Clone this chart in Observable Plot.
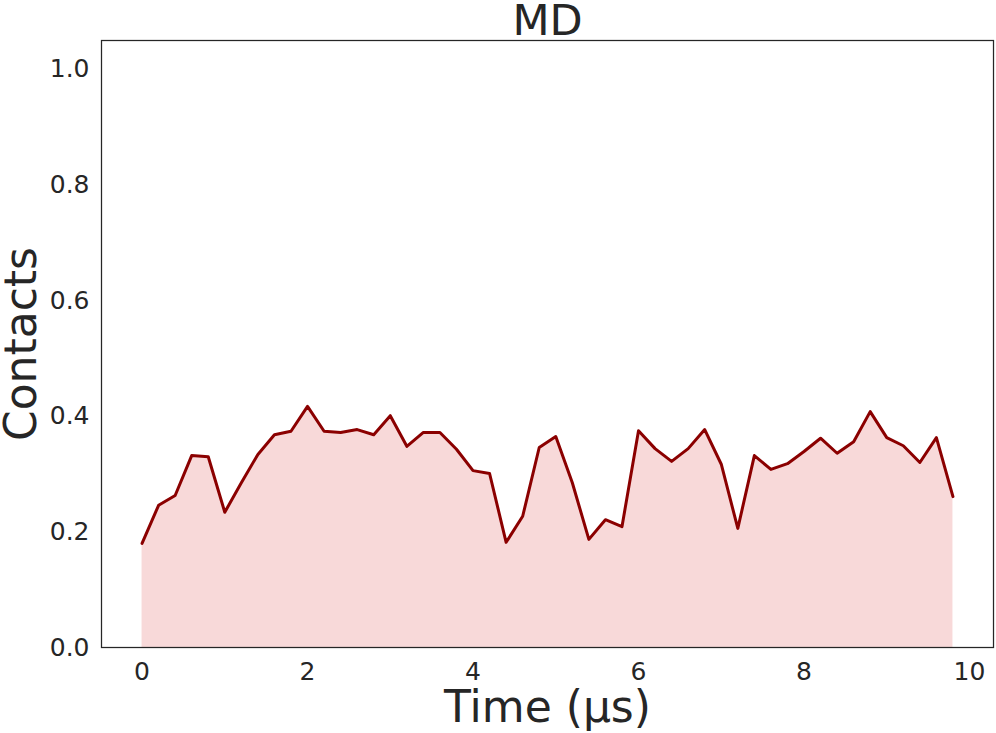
<!DOCTYPE html>
<html>
<head>
<meta charset="utf-8">
<script src="https://cdn.jsdelivr.net/npm/d3@7"></script>
<script src="https://cdn.jsdelivr.net/npm/@observablehq/plot@0.6"></script>
<style>
  html, body { margin: 0; padding: 0; background: #fff; }
  #chart svg { display: block; }
</style>
</head>
<body>
<div id="chart"></div>
<script>
const title = "MD";
const xLabel = "Time (µs)";
const yLabel = "Contacts";
const times = [0, 0.2, 0.4, 0.6, 0.8, 1.0, 1.2, 1.4, 1.6, 1.8,
               2.0, 2.2, 2.4, 2.6, 2.8, 3.0, 3.2, 3.4, 3.6, 3.8,
               4.0, 4.2, 4.4, 4.6, 4.8, 5.0, 5.2, 5.4, 5.6, 5.8,
               6.0, 6.2, 6.4, 6.6, 6.8, 7.0, 7.2, 7.4, 7.6, 7.8,
               8.0, 8.2, 8.4, 8.6, 8.8, 9.0, 9.2, 9.4, 9.6, 9.8];
const contacts = [0.180, 0.246, 0.263, 0.332, 0.330, 0.234, 0.285, 0.334, 0.368, 0.374,
                  0.417, 0.374, 0.372, 0.377, 0.368, 0.401, 0.348, 0.372, 0.372, 0.343,
                  0.306, 0.301, 0.182, 0.227, 0.346, 0.365, 0.285, 0.187, 0.221, 0.209,
                  0.375, 0.344, 0.322, 0.344, 0.377, 0.317, 0.206, 0.332, 0.308, 0.318,
                  0.339, 0.362, 0.336, 0.356, 0.408, 0.363, 0.349, 0.320, 0.363, 0.261];
const xTicks = [0, 2, 4, 6, 8, 10];
const yTicks = [0, 0.2, 0.4, 0.6, 0.8, 1.0];

const data = times.map((t, i) => ({t, c: contacts[i]}));
const textColor = "#262626";

const chart = Plot.plot({
  width: 996,
  height: 733,
  marginLeft: 101,
  marginRight: 3,
  marginTop: 40,
  marginBottom: 86,
  style: {fontFamily: "DejaVu Sans, sans-serif", color: textColor, background: "#fff"},
  x: {domain: [-0.49, 10.29], ticks: xTicks, tickFormat: d => String(d), label: null},
  y: {domain: [0, 1.05], ticks: yTicks, tickFormat: d3.format(".1f"), label: null},
  marks: [
    Plot.areaY(data, {x: "t", y: "c", fill: "#f8d9d9", fillOpacity: 1}),
    Plot.lineY(data, {x: "t", y: "c", stroke: "#8b0000", strokeWidth: 3, strokeLinejoin: "round"}),
    Plot.frame({stroke: textColor, strokeWidth: 1.25}),
    Plot.axisX({ticks: xTicks, tickFormat: d => String(d), tickSize: 0, tickPadding: 15, fontSize: 25, fill: textColor, label: null}),
    Plot.axisY({ticks: yTicks, tickFormat: d3.format(".1f"), tickSize: 0, tickPadding: 12, fontSize: 25, fill: textColor, label: null}),
    Plot.text([title], {text: d => d, frameAnchor: "top", textAnchor: "middle", dy: -19, lineAnchor: "middle", fontSize: 43, fill: textColor}),
    Plot.text([xLabel], {text: d => d, frameAnchor: "bottom", textAnchor: "middle", dy: 60, lineAnchor: "middle", fontSize: 44, fill: textColor}),
    Plot.text([yLabel], {text: d => d, frameAnchor: "left", textAnchor: "middle", dx: -80, rotate: -90, lineAnchor: "middle", fontSize: 44, fill: textColor})
  ]
});
document.getElementById("chart").appendChild(chart);
</script>
</body>
</html>
